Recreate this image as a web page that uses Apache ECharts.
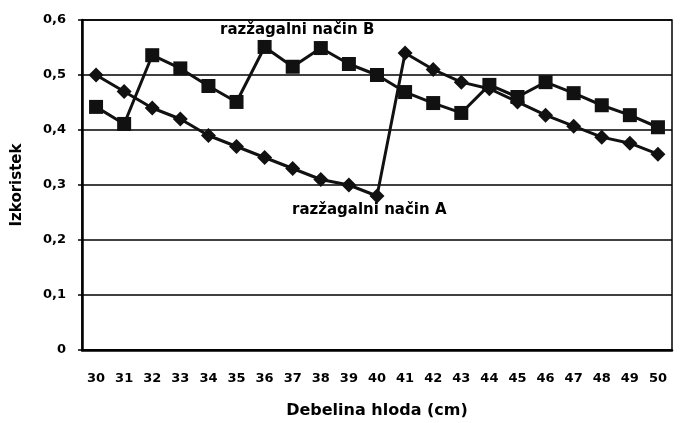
<!DOCTYPE html>
<html>
<head>
<meta charset="utf-8">
<script src="https://cdn.jsdelivr.net/npm/echarts@6/dist/echarts.min.js"></script>
<style>
  html, body { margin: 0; padding: 0; background: #fff; }
  #chart { width: 682px; height: 423px; }
</style>
</head>
<body>
<div id="chart"></div>
<script>
// debelina hloda (cm)
const categories = ['30', '31', '32', '33', '34', '35', '36', '37', '38', '39', '40',
  '41', '42', '43', '44', '45', '46', '47', '48', '49', '50']
// razžagalni način A (romb)
const nacinA = [0.50, 0.47, 0.44, 0.42, 0.39, 0.37, 0.35, 0.33, 0.31, 0.30, 0.28,
  0.54, 0.51, 0.487, 0.475, 0.451, 0.427, 0.407, 0.387, 0.376, 0.356]
// razžagalni način B (kvadrat)
const nacinB = [0.442, 0.411, 0.536, 0.512, 0.48, 0.451, 0.551, 0.515, 0.549, 0.52, 0.50,
  0.469, 0.449, 0.431, 0.482, 0.46, 0.487, 0.467, 0.445, 0.427, 0.405]
const yTicks = ['0', '0,1', '0,2', '0,3', '0,4', '0,5', '0,6']

const font = 'DejaVu Sans, Liberation Sans, sans-serif'

const option = {
  animation: false,
  backgroundColor: '#fff',
  grid: {
    left: 82,
    right: 10,
    top: 20,
    bottom: 73,
    outerBoundsMode: 'none',
    show: true,
    borderColor: '#000',
    borderWidth: 1.5
  },
  xAxis: {
    type: 'category',
    data: categories,
    boundaryGap: true,
    name: 'Debelina hloda (cm)',
    nameLocation: 'middle',
    nameGap: 53,
    nameTextStyle: { color: '#000', fontFamily: font, fontWeight: 'bold', fontSize: 16 },
    axisLine: { lineStyle: { color: '#000', width: 2.5 } },
    axisTick: { show: false },
    axisLabel: { color: '#000', fontFamily: font, fontWeight: 'bold', fontSize: 13, margin: 22, interval: 0 }
  },
  yAxis: {
    type: 'value',
    min: 0,
    max: 0.6,
    interval: 0.1,
    name: 'Izkoristek',
    nameLocation: 'middle',
    nameGap: 57,
    nameTextStyle: { color: '#000', fontFamily: font, fontWeight: 'bold', fontSize: 15 },
    axisLine: { show: true, lineStyle: { color: '#000', width: 2.5 } },
    axisTick: { show: true, length: 4, lineStyle: { color: '#000', width: 1.5 } },
    axisLabel: {
      color: '#000', fontFamily: font, fontWeight: 'bold', fontSize: 13, margin: 16,
      formatter: (v) => yTicks[Math.round(v * 10)]
    },
    splitLine: { lineStyle: { color: '#000', width: 1.5 } }
  },
  series: [
    {
      name: 'razžagalni način A',
      type: 'line',
      data: nacinA,
      symbol: 'diamond',
      symbolSize: 15,
      lineStyle: { color: '#111', width: 3 },
      itemStyle: { color: '#111' }
    },
    {
      name: 'razžagalni način B',
      type: 'line',
      data: nacinB,
      symbol: 'rect',
      symbolSize: 14,
      lineStyle: { color: '#111', width: 3 },
      itemStyle: { color: '#111' }
    }
  ],
  graphic: [
    {
      type: 'text',
      left: 220,
      top: 23,
      style: {
        text: 'razžagalni način B',
        fill: '#000',
        backgroundColor: '#fff',
        font: 'bold 15px ' + font
      }
    },
    {
      type: 'text',
      left: 292,
      top: 203,
      style: {
        text: 'razžagalni način A',
        fill: '#000',
        backgroundColor: '#fff',
        font: 'bold 15px ' + font
      }
    }
  ]
}

const myChart = echarts.init(document.getElementById('chart'))
myChart.setOption(option)
</script>
</body>
</html>
